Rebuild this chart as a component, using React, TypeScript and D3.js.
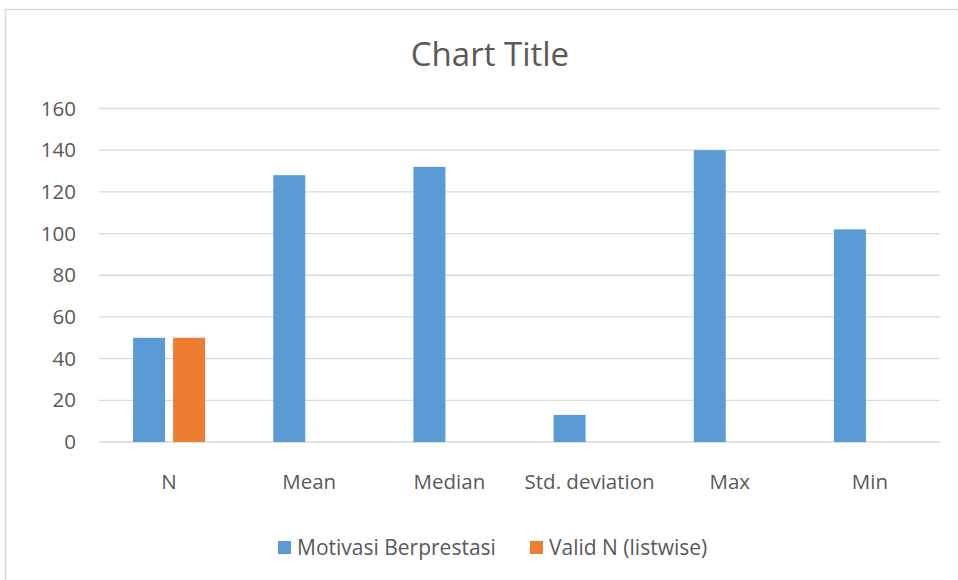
import * as d3 from 'd3';

const categories = ['N', 'Mean', 'Median', 'Std. deviation', 'Max', 'Min'];
const motivasi = [50, 128, 132, 13, 140, 102];
const validN: (number | null)[] = [50, null, null, null, null, null];
const yTicks = [0, 20, 40, 60, 80, 100, 120, 140, 160];
const seriesNames = ['Motivasi Berprestasi', 'Valid N (listwise)'];
const colors = ['#5b9bd5', '#ed7d31'];

const width = 958;
const height = 580;
const font = '"Open Sans", sans-serif';
const textColor = '#595959';

export default function App() {
  const x = d3.scaleBand<string>().domain(categories).range([99, 940]);
  const y = d3.scaleLinear().domain([0, 160]).range([442, 108.5]);
  const barW = 32;
  const gap = 8;

  const series = [motivasi, validN];

  return (
    <div style={{ position: 'absolute', left: 0, top: 0 }}>
      <svg width={width} height={height} style={{ display: 'block', fontFamily: font }}>
        <rect x={0} y={0} width={width} height={height} fill="#fff" />
        <rect x={5.5} y={9.5} width={width} height={height} fill="none" stroke="#d9d9d9" strokeWidth={1.5} />
        <text x={490} y={66} textAnchor="middle" fontSize={33} fill={textColor}>
          Chart Title
        </text>
        {yTicks.map((t) => (
          <g key={t}>
            <line x1={99} x2={940} y1={y(t)} y2={y(t)} stroke="#d9d9d9" strokeWidth={1.3} />
            <text x={76} y={y(t)} dy="0.35em" textAnchor="end" fontSize={20.5} fill={textColor}>
              {t}
            </text>
          </g>
        ))}
        {categories.map((c, i) => {
          const cx = x(c)! + x.bandwidth() / 2;
          return (
            <g key={c}>
              {series.map((s, j) => {
                const v = s[i];
                if (v == null) return null;
                const bx = j === 0 ? cx - gap / 2 - barW : cx + gap / 2;
                return <rect key={j} x={bx} y={y(v)} width={barW} height={y(0) - y(v)} fill={colors[j]} />;
              })}
              <text x={cx} y={482} dy="0.35em" textAnchor="middle" fontSize={20.5} fill={textColor}>
                {c}
              </text>
            </g>
          );
        })}
        {seriesNames.map((n, j) => {
          const lx = j === 0 ? 278 : 530;
          return (
            <g key={n}>
              <rect x={lx} y={541} width={13} height={13} fill={colors[j]} />
              <text x={lx + 19} y={547.5} dy="0.35em" fontSize={21} fill={textColor}>
                {n}
              </text>
            </g>
          );
        })}
      </svg>
    </div>
  );
}
